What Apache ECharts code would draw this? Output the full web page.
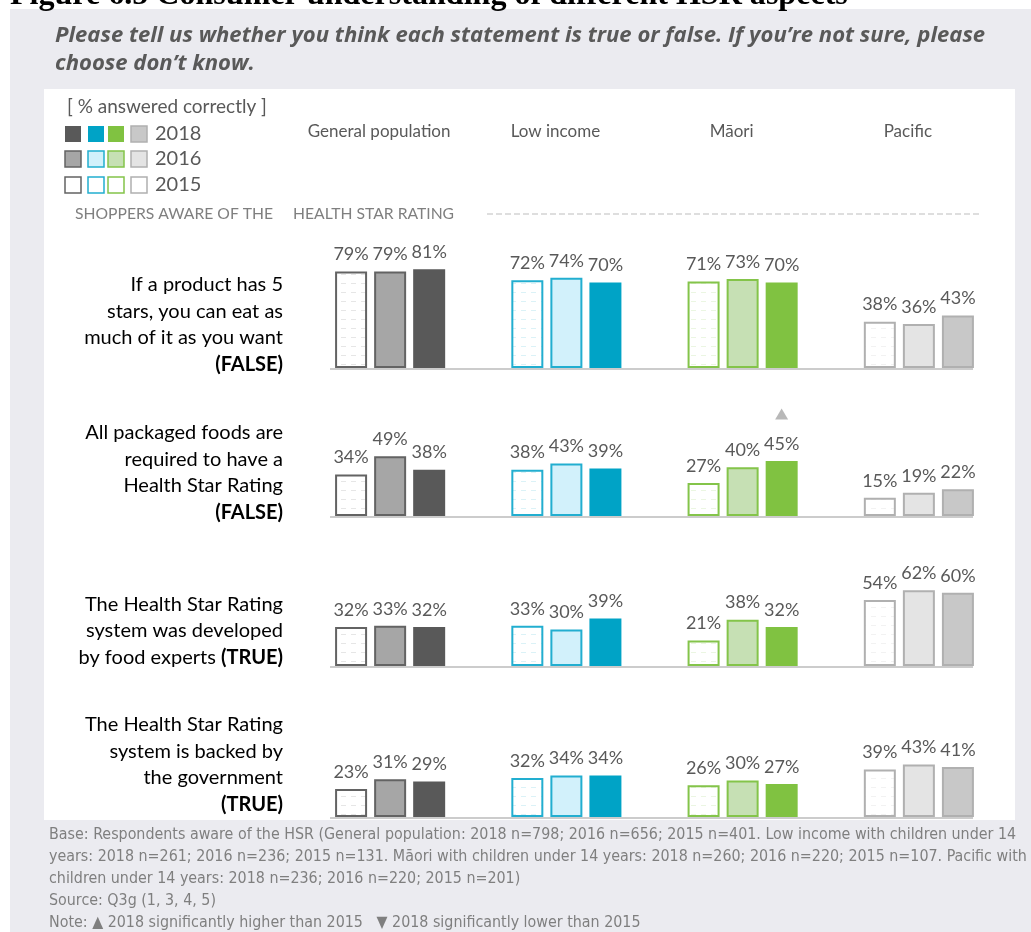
<!DOCTYPE html>
<html><head><meta charset="utf-8">
<script src="https://cdn.jsdelivr.net/npm/echarts@6/dist/echarts.min.js"></script>
<style>html,body{margin:0;padding:0;background:#fff}#c{width:1031px;height:932px}</style>
</head><body><div id="c"></div>
<script>
// ---------------- DATA ----------------
const groups = ['General population', 'Low income', 'Māori', 'Pacific'];
const years = ['2015', '2016', '2018'];           // bar order in each group
const legendYears = ['2018', '2016', '2015'];
const statements = [
  [['If a product has 5', false], ['stars, you can eat as', false], ['much of it as you want', false], ['(FALSE)', true]],
  [['All packaged foods are', false], ['required to have a', false], ['Health Star Rating', false], ['(FALSE)', true]],
  [['The Health Star Rating', false], ['system was developed', false], ['by food experts ', false, '(TRUE)']],
  [['The Health Star Rating', false], ['system is backed by', false], ['the government', false], ['(TRUE)', true]]
];
// % answered correctly, rows = statements, columns = groups
const v2015 = [[79, 72, 71, 38], [34, 38, 27, 15], [32, 33, 21, 54], [23, 32, 26, 39]];
const v2016 = [[79, 74, 73, 36], [49, 43, 40, 19], [33, 30, 38, 62], [31, 34, 30, 43]];
const v2018 = [[81, 70, 70, 43], [38, 39, 45, 22], [32, 39, 32, 60], [29, 34, 27, 41]];
// 2018 significantly higher than 2015 (row, group)
const sigHigher = [[1, 2]];
const sigLower = [];

const titleLines = [
  'Please tell us whether you think each statement is true or false. If you’re not sure, please',
  'choose don’t know.'
];
const figureHeading = 'Figure 6.5 Consumer understanding of different HSR aspects';
const legendTitle = '[ % answered correctly ]';
const sectionLabel = ['SHOPPERS AWARE OF THE', 'HEALTH STAR RATING'];
const footerLines = [
  'Base: Respondents aware of the HSR (General population: 2018 n=798; 2016 n=656; 2015 n=401. Low income with children under 14',
  'years: 2018 n=261; 2016 n=236; 2015 n=131. Māori with children under 14 years: 2018 n=260; 2016 n=220; 2015 n=107. Pacific with',
  'children under 14 years: 2018 n=236; 2016 n=220; 2015 n=201)',
  'Source: Q3g (1, 3, 4, 5)',
  'Note: ▲ 2018 significantly higher than 2015   ▼ 2018 significantly lower than 2015'
];

// ---------------- STYLE ----------------
const groupStyle = [
  { line: '#636363', mid: '#a6a6a6', dark: '#595959', darkLine: null },
  { line: '#22aed0', mid: '#d2f1fb', dark: '#00a3c6', darkLine: null },
  { line: '#84c44a', mid: '#c6e0b4', dark: '#80c241', darkLine: null },
  { line: '#b0b0b0', mid: '#e4e4e4', dark: '#c8c8c8', darkLine: '#b0b0b0' }
];
const TXT = '#595959';

const mctx = document.createElement('canvas').getContext('2d');
function available(f) {
  const t = 'abcdefghijklmnopqrstuvwxyzABCDEFGH0123456789';
  for (const base of ['monospace', 'serif']) {
    mctx.font = '40px ' + base; const a = mctx.measureText(t).width;
    mctx.font = '40px "' + f + '", ' + base; const b = mctx.measureText(t).width;
    if (a !== b) return true;
  }
  return false;
}
function pick(list) { for (const f of list) if (available(f)) return f; return list[list.length - 1]; }
function fit(text, style, weight, family, target) {
  mctx.font = style + ' ' + weight + ' 100px "' + family + '"';
  return 100 * target / mctx.measureText(text).width;
}
const LAT = pick(['Lato', 'Open Sans']);
const COND = pick(['Liberation Sans Narrow', 'DejaVu Sans Condensed', 'Open Sans']);
const TITLEF = 'Open Sans';
const SERIF = pick(['Liberation Serif', 'DejaVu Serif']);

function hatch(color) {
  const c = document.createElement('canvas'); c.width = 10; c.height = 9;
  const x = c.getContext('2d');
  x.fillStyle = '#fff'; x.fillRect(0, 0, 10, 9);
  x.strokeStyle = color; x.globalAlpha = 0.16; x.lineWidth = 1;
  x.beginPath(); x.moveTo(1, 4.5); x.lineTo(6, 4.5); x.stroke();
  return { image: c, repeat: 'repeat' };
}

// ---------------- LAYOUT ----------------
const baselines = [368, 516, 666, 817];
const pxPerPct = 1.22;
const gridLeft = 302, gridRight = 24;

const chart = echarts.init(document.getElementById('c'), null, { renderer: 'canvas' });

const grids = [], xAxes = [], yAxes = [], series = [];
baselines.forEach((b, r) => {
  grids.push({ left: gridLeft, right: gridRight, top: b - 100 * pxPerPct, height: 100 * pxPerPct });
  xAxes.push({
    gridIndex: r, type: 'category', data: groups,
    position: 'top', offset: 98,
    axisLine: { show: false }, axisTick: { show: false },
    axisLabel: { show: r === 0, interval: 0, hideOverlap: false, margin: 8, fontFamily: LAT, fontSize: 17, color: TXT, padding: [0, 22, 0, 0] }
  });
  yAxes.push({ gridIndex: r, type: 'value', min: 0, max: 100, show: false, splitLine: { show: false } });
  const vals = [v2015[r], v2016[r], v2018[r]];
  years.forEach((y, k) => {
    series.push({
      type: 'bar', name: y, xAxisIndex: r, yAxisIndex: r,
      barWidth: 32, barGap: '22%',
      data: groups.map((g, i) => {
        const st = groupStyle[i];
        let itemStyle;
        if (k === 0) itemStyle = { color: hatch(st.line), borderColor: st.line, borderWidth: 2 };
        else if (k === 1) itemStyle = { color: st.mid, borderColor: st.line, borderWidth: 2 };
        else itemStyle = st.darkLine ? { color: st.dark, borderColor: st.darkLine, borderWidth: 2 } : { color: st.dark };
        return { value: vals[k][i], itemStyle };
      }),
      label: { show: true, position: 'top', distance: 8, formatter: p => p.value + '%', fontFamily: LAT, fontSize: 18, color: TXT },
      emphasis: { disabled: true }, animation: false
    });
  });
  const ups = sigHigher.filter(s => s[0] === r).map(s => [s[1], v2018[r][s[1]]]);
  const downs = sigLower.filter(s => s[0] === r).map(s => [s[1], v2018[r][s[1]]]);
  if (ups.length) series.push({ type: 'scatter', xAxisIndex: r, yAxisIndex: r, data: ups, symbol: 'triangle', symbolSize: [13, 11], symbolOffset: [39, -47], itemStyle: { color: '#a6a6a6' }, silent: true, animation: false });
  if (downs.length) series.push({ type: 'scatter', xAxisIndex: r, yAxisIndex: r, data: downs, symbol: 'triangle', symbolRotate: 180, symbolSize: [13, 11], symbolOffset: [39, -47], itemStyle: { color: '#a6a6a6' }, silent: true, animation: false });
});

// ---------------- GRAPHICS ----------------
const graphic = [];
graphic.push({ type: 'rect', z: -10, shape: { x: 10, y: 9, width: 1021, height: 923 }, style: { fill: '#ebebf0' }, silent: true });
graphic.push({ type: 'rect', z: -9, shape: { x: 44, y: 89, width: 971, height: 731 }, style: { fill: '#ffffff' }, silent: true });

const headFs = fit(figureHeading, 'normal', 'bold', SERIF, 838);
graphic.push({ type: 'text', x: 10, y: 7 - 0.34 * headFs, style: { text: figureHeading, font: 'bold ' + headFs.toFixed(2) + 'px "' + SERIF + '"', fill: '#000', textVerticalAlign: 'middle' } });

const titleFs = fit(titleLines[0], 'italic', 'bold', TITLEF, 930);
titleLines.forEach((t, i) => graphic.push({ type: 'text', x: 55, y: 36 + 27.5 * i, style: { text: t, font: 'italic bold ' + titleFs.toFixed(2) + 'px "' + TITLEF + '"', fill: TXT, textVerticalAlign: 'middle' } }));

graphic.push({ type: 'text', x: 67, y: 107, style: { text: legendTitle, font: '19px "' + LAT + '"', fill: TXT, textVerticalAlign: 'middle' } });
const swX = [65, 88, 108, 131], swY = [134, 159, 185];
legendYears.forEach((y, rIdx) => {
  groupStyle.forEach((st, g) => {
    let style;
    if (y === '2018') style = st.darkLine ? { fill: st.dark, stroke: st.darkLine, lineWidth: 1.5 } : { fill: st.dark };
    else if (y === '2016') style = { fill: st.mid, stroke: st.line, lineWidth: 1.5 };
    else style = { fill: '#fff', stroke: st.line, lineWidth: 1.5 };
    graphic.push({ type: 'rect', shape: { x: swX[g], y: swY[rIdx] - 8, width: 16, height: 16 }, style });
  });
  graphic.push({ type: 'text', x: 155, y: swY[rIdx], style: { text: y, font: '20px "' + LAT + '"', fill: TXT, textVerticalAlign: 'middle' } });
});

graphic.push({ type: 'text', x: 75, y: 214, style: { text: sectionLabel[0], font: '15.7px "' + LAT + '"', fill: '#7f7f7f', textVerticalAlign: 'middle' } });
graphic.push({ type: 'text', x: 293, y: 214, style: { text: sectionLabel[1], font: '15.7px "' + LAT + '"', fill: '#7f7f7f', textVerticalAlign: 'middle' } });
graphic.push({ type: 'line', shape: { x1: 487, y1: 214, x2: 980, y2: 214 }, style: { stroke: '#bdbdbd', lineWidth: 1, lineDash: [6, 3] } });

baselines.forEach(b => graphic.push({ type: 'line', z: -1, shape: { x1: 330, y1: b + 1, x2: 973, y2: b + 1 }, style: { stroke: '#cccccc', lineWidth: 2 } }));

const stmtCenters = [324.5, 472.5, 631, 764.5];
statements.forEach((lines, r) => {
  const text = lines.map(l => {
    if (l.length === 3) return '{n|' + l[0] + '}{b|' + l[2] + '}';
    return l[1] ? '{b|' + l[0] + '}' : '{n|' + l[0] + '}';
  }).join('\n');
  graphic.push({ type: 'text', x: 283, y: stmtCenters[r], style: {
    text, align: 'right', verticalAlign: 'middle', textAlign: 'right', textVerticalAlign: 'middle',
    rich: {
      n: { fontFamily: LAT, fontSize: 20, color: '#767676', lineHeight: 26.5 },
      b: { fontFamily: LAT, fontSize: 20, fontWeight: 'bold', color: '#767676', lineHeight: 26.5 }
    }
  } });
});

const footFs = fit(footerLines[1], 'normal', 'normal', COND, 979);
footerLines.forEach((t, i) => graphic.push({ type: 'text', x: 49, y: 835 + 22 * i, style: { text: t, font: footFs.toFixed(2) + 'px "' + COND + '"', fill: '#7f7f7f', textVerticalAlign: 'middle' } }));

chart.setOption({
  backgroundColor: '#ffffff',
  animation: false,
  grid: grids, xAxis: xAxes, yAxis: yAxes, series,
  graphic
});
</script>
</body></html>
